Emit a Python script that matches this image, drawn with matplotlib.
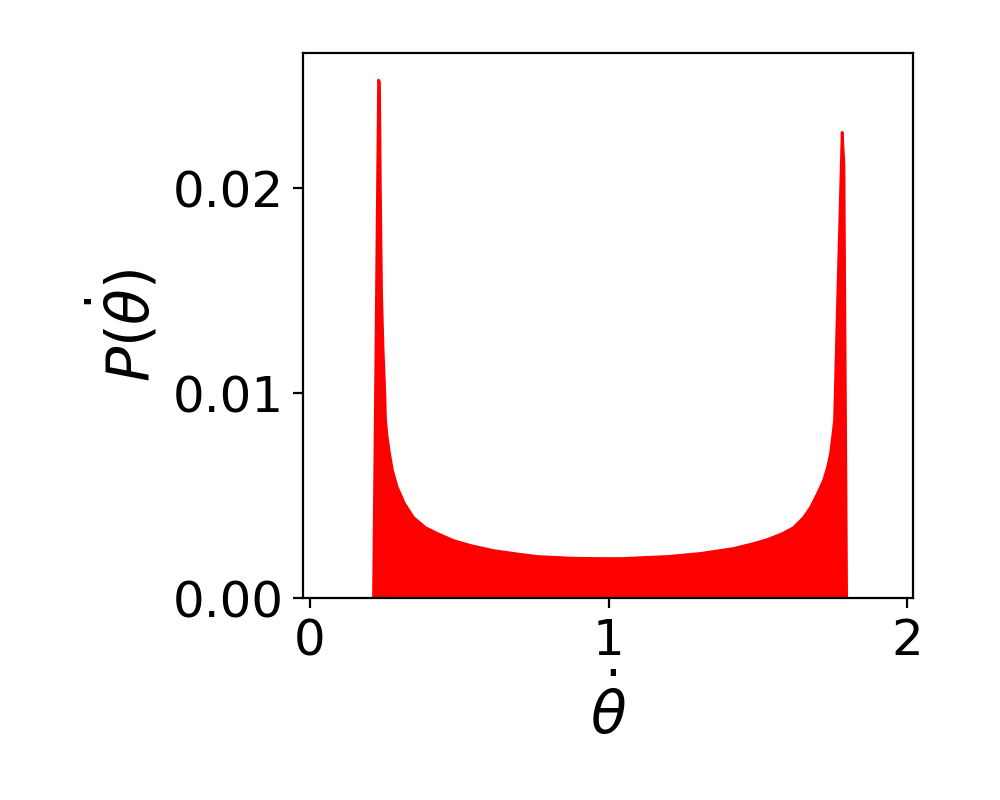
import matplotlib
matplotlib.use('Agg')
import matplotlib.pyplot as plt

plt.rcParams['font.size'] = 18

# values
theta_dot = [0.0, 0.211, 0.228, 0.231, 0.234, 0.238, 0.243, 0.249, 0.2513, 0.257,
             0.2647, 0.2747, 0.2905, 0.3149, 0.3451, 0.3853, 0.4255, 0.479, 0.536, 0.613,
             0.680, 0.760, 0.871, 0.972, 1.04, 1.196, 1.3065, 1.417, 1.484, 1.531,
             1.581, 1.618, 1.6516, 1.675, 1.6985, 1.7186, 1.732, 1.742, 1.7487, 1.7554,
             1.764, 1.773, 1.781, 1.787, 1.796, 2.0]
prob = [0.0, 0.0, 0.0253, 0.0252, 0.0200, 0.0149, 0.0122, 0.0100, 0.00868, 0.00787,
        0.00707, 0.00624, 0.00543, 0.00463, 0.00395, 0.00346, 0.00317, 0.00283, 0.00259, 0.00234,
        0.00220, 0.00205, 0.00197, 0.00195, 0.00195, 0.00205, 0.00220, 0.00244, 0.00268, 0.00288,
        0.00317, 0.00346, 0.00395, 0.00444, 0.00512, 0.00576, 0.00639, 0.00707, 0.00785, 0.00868,
        0.01356, 0.0184, 0.02275, 0.0212, 0.0, 0.0]

fig = plt.figure(figsize=(5, 4), dpi=200)
ax = fig.add_axes([0.303, 0.2525, 0.61, 0.68125])
ax.fill_between(theta_dot, prob, color='r')
ax.set_xlim(-0.0235, 2.02)
ax.set_ylim(0, 0.0266)
ax.set_xticks([0, 1, 2])
ax.set_yticks([0.0, 0.01, 0.02])
ax.set_xlabel(r'$\dot{\theta}$', fontsize=21)
ax.set_ylabel(r'$P(\dot{\theta})$', fontsize=21)
fig.savefig('out.png', dpi=200)
